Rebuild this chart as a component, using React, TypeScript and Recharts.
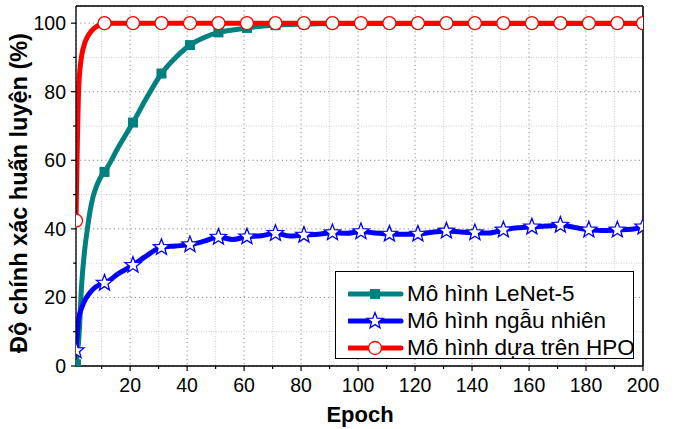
import React from "react";
import { LineChart, Line, XAxis, YAxis, CartesianGrid, ReferenceLine, Legend } from "recharts";

const epochs = [1, 2, 3, 4, 5, 6, 7, 8, 9, 10, 11, 16, 21, 26, 31, 36, 41, 46, 51, 56, 61, 66, 71, 76, 81, 86, 91, 96, 101, 106, 111, 116, 121, 126, 131, 136, 141, 146, 151, 156, 161, 166, 171, 176, 181, 186, 191, 196, 200];

const lenet = [0.5, 8, 24, 33.5, 40, 45.5, 49.4, 52, 54, 55.5, 56.6, 64, 71, 78.5, 85.3, 90, 93.6, 95.8, 97.3, 98, 98.6, 99.1, 99.4, 99.6, 99.7, 99.8, 99.85, 99.9, 99.9, 99.9, 99.9, 99.9, 99.9, 99.9, 99.9, 99.9, 99.9, 99.9, 99.9, 99.9, 99.9, 99.9, 99.9, 99.9, 99.9, 99.9, 99.9, 99.9, 99.9];

const randomModel = [4.5, 14, 17, 19, 20.4, 21.5, 22.4, 23.1, 23.6, 24, 24.2, 27, 29.4, 32.3, 34.6, 35, 35.4, 36.4, 37.6, 36.9, 37.7, 38, 38.7, 37.9, 38.2, 38.4, 38.9, 38.7, 39.2, 38.8, 38.5, 38.4, 38.5, 39, 39.4, 39.1, 38.9, 38.8, 39.7, 40.3, 40.6, 40.8, 41.1, 40.4, 39.7, 39.5, 39.7, 39.9, 40.6];

const hpo = [42.4, 82, 90.5, 94, 96, 97.3, 98.2, 98.9, 99.4, 99.8, 100, 100, 100, 100, 100, 100, 100, 100, 100, 100, 100, 100, 100, 100, 100, 100, 100, 100, 100, 100, 100, 100, 100, 100, 100, 100, 100, 100, 100, 100, 100, 100, 100, 100, 100, 100, 100, 100, 100];

const markerEpochs = [1, 11, 21, 31, 41, 51, 61, 71, 81, 91, 101, 111, 121, 131, 141, 151, 161, 171, 181, 191, 200];

const xTicks = [10, 20, 30, 40, 50, 60, 70, 80, 90, 100, 110, 120, 130, 140, 150, 160, 170, 180, 190, 200];
const yTicks = [0, 10, 20, 30, 40, 50, 60, 70, 80, 90, 100];
const xGridMajor = [20, 40, 60, 80, 100, 120, 140, 160, 180];
const xGridMinor = [10, 30, 50, 70, 90, 110, 130, 150, 170, 190];
const yGridMajor = [20, 40, 60, 80, 100];
const yGridMinor = [10, 30, 50, 70, 90];

const seriesNames = ["Mô hình LeNet-5", "Mô hình ngẫu nhiên", "Mô hình dựa trên HPO"];

const TEAL = "#008080";
const BLUE = "#0000FF";
const RED = "#FF0000";
const FONT = "'Liberation Sans', Arial, sans-serif";

const data = epochs.map((epoch, i) => ({
  epoch,
  lenet: lenet[i],
  random: randomModel[i],
  hpo: hpo[i],
}));

function starPath(cx: number, cy: number, R: number, r: number) {
  const pts: string[] = [];
  for (let k = 0; k < 10; k++) {
    const rad = k % 2 === 0 ? R : r;
    const a = -Math.PI / 2 + (k * Math.PI) / 5;
    pts.push(`${(cx + rad * Math.cos(a)).toFixed(2)},${(cy + rad * Math.sin(a)).toFixed(2)}`);
  }
  return `M${pts.join("L")}Z`;
}

function Square({ cx, cy }: { cx: number; cy: number }) {
  return <rect x={cx - 5} y={cy - 5} width={10} height={10} fill={TEAL} />;
}
function Star({ cx, cy }: { cx: number; cy: number }) {
  return <path d={starPath(cx, cy, 8.5, 3.6)} fill="#fff" stroke={BLUE} strokeWidth={1.3} />;
}
function Circle({ cx, cy }: { cx: number; cy: number }) {
  return <circle cx={cx} cy={cy} r={6.5} fill="#fff" stroke={RED} strokeWidth={1.3} />;
}

const makeDot = (Shape: React.FC<{ cx: number; cy: number }>, name: string) => (props: any) => {
  const { cx, cy, payload } = props;
  const k = `${name}-${payload.epoch}`;
  if (!markerEpochs.includes(payload.epoch) || cx == null || cy == null) return <g key={k} />;
  return (
    <g key={k}>
      <Shape cx={cx} cy={cy} />
    </g>
  );
};

const XTick = (props: any) => {
  const { x, y, payload } = props;
  const major = payload.value % 20 === 0;
  return (
    <g>
      <line x1={x} x2={x} y1={y} y2={y + (major ? 5 : 3)} stroke="#000" strokeWidth={1.2} />
      {major && (
        <text x={x} y={y + 25.5} textAnchor="middle" fontSize={19.5} fontFamily={FONT} fill="#000">
          {payload.value}
        </text>
      )}
    </g>
  );
};

const YTick = (props: any) => {
  const { x, y, payload } = props;
  const major = payload.value % 20 === 0;
  return (
    <g>
      <line x1={x} x2={x - (major ? 5 : 3)} y1={y} y2={y} stroke="#000" strokeWidth={1.2} />
      {major && (
        <text x={x - 10} y={y} dy="0.36em" textAnchor="end" fontSize={19.5} fontFamily={FONT} fill="#000">
          {payload.value}
        </text>
      )}
    </g>
  );
};

const legendShapes = [
  { color: TEAL, Shape: Square },
  { color: BLUE, Shape: Star },
  { color: RED, Shape: Circle },
];

const renderLegend = () => (
  <div
    style={{
      width: 299,
      height: 88,
      boxSizing: "border-box",
      border: "1px solid #000",
      background: "#fff",
      paddingTop: 8,
    }}
  >
    {seriesNames.map((name, i) => {
      const { color, Shape } = legendShapes[i];
      return (
        <div key={name} style={{ display: "flex", alignItems: "center", height: 27 }}>
          <svg width={66} height={20} style={{ marginLeft: 12, flex: "none" }}>
            <line x1={1} x2={53} y1={10} y2={10} stroke={color} strokeWidth={5} strokeLinecap="round" />
            <Shape cx={27} cy={10} />
          </svg>
          <span style={{ fontFamily: FONT, fontSize: 22.5, color: "#000", lineHeight: "27px", whiteSpace: "nowrap", marginLeft: -7 }}>
            {name}
          </span>
        </div>
      );
    })}
  </div>
);

export default function App() {
  return (
    <div style={{ position: "absolute", left: 0, top: 0, width: 675, height: 429, background: "#fff" }}>
      <LineChart width={675} height={429} data={data} margin={{ top: 6, right: 32, bottom: 0, left: 0 }}>
        <XAxis xAxisId="gMajor" dataKey="epoch" type="number" domain={[1, 200]} ticks={xGridMajor} hide allowDataOverflow />
        <XAxis xAxisId="gMinor" dataKey="epoch" type="number" domain={[1, 200]} ticks={xGridMinor} hide allowDataOverflow />
        <YAxis yAxisId="gMajor" type="number" domain={[0, 105]} ticks={yGridMajor} hide allowDataOverflow />
        <YAxis yAxisId="gMinor" type="number" domain={[0, 105]} ticks={yGridMinor} hide allowDataOverflow />
        <CartesianGrid xAxisId="gMinor" yAxisId="gMinor" stroke="#cfcfcf" strokeDasharray="1 1.5" />
        <CartesianGrid xAxisId="gMajor" yAxisId="gMajor" stroke="#8a8a8a" strokeDasharray="1.2 3" />
        <XAxis
          dataKey="epoch"
          type="number"
          domain={[1, 200]}
          ticks={xTicks}
          allowDataOverflow
          height={63}
          tickSize={0}
          tickMargin={0}
          tickLine={false}
          tick={<XTick />}
          axisLine={{ stroke: "#000", strokeWidth: 1.3 }}
          interval={0}
          label={{
            position: "insideBottom",
            content: () => (
              <text x={360} y={421.5} textAnchor="middle" fontSize={22} fontWeight="bold" fontFamily={FONT} fill="#000">
                Epoch
              </text>
            ),
          }}
        />
        <YAxis
          type="number"
          domain={[0, 105]}
          ticks={yTicks}
          allowDataOverflow
          width={76}
          tickSize={0}
          tickMargin={0}
          tickLine={false}
          tick={<YTick />}
          axisLine={{ stroke: "#000", strokeWidth: 1.3 }}
          interval={0}
          label={{
            position: "insideLeft",
            content: () => (
              <text
                x={0}
                y={0}
                transform="translate(27 193) rotate(-90)"
                textAnchor="middle"
                fontSize={23.5}
                fontWeight="bold"
                fontFamily={FONT}
                fill="#000"
              >
                Độ chính xác huấn luyện (%)
              </text>
            ),
          }}
        />
        <ReferenceLine y={105} stroke="#000" strokeWidth={1.5} />
        <ReferenceLine x={200} stroke="#333" strokeWidth={2} />
        <Line
          type="monotone"
          dataKey="lenet"
          name={seriesNames[0]}
          stroke={TEAL}
          strokeWidth={5}
          dot={makeDot(Square, "lenet")}
          activeDot={false}
          isAnimationActive={false}
        />
        <Line
          type="monotone"
          dataKey="random"
          name={seriesNames[1]}
          stroke={BLUE}
          strokeWidth={5}
          dot={makeDot(Star, "random")}
          activeDot={false}
          isAnimationActive={false}
        />
        <Line
          type="monotone"
          dataKey="hpo"
          name={seriesNames[2]}
          stroke={RED}
          strokeWidth={5}
          dot={makeDot(Circle, "hpo")}
          activeDot={false}
          isAnimationActive={false}
        />
        <Legend
          layout="vertical"
          align="center"
          verticalAlign="middle"
          content={renderLegend}
          wrapperStyle={{ left: 335, top: 271, width: 299, height: 88 }}
        />
      </LineChart>
    </div>
  );
}
